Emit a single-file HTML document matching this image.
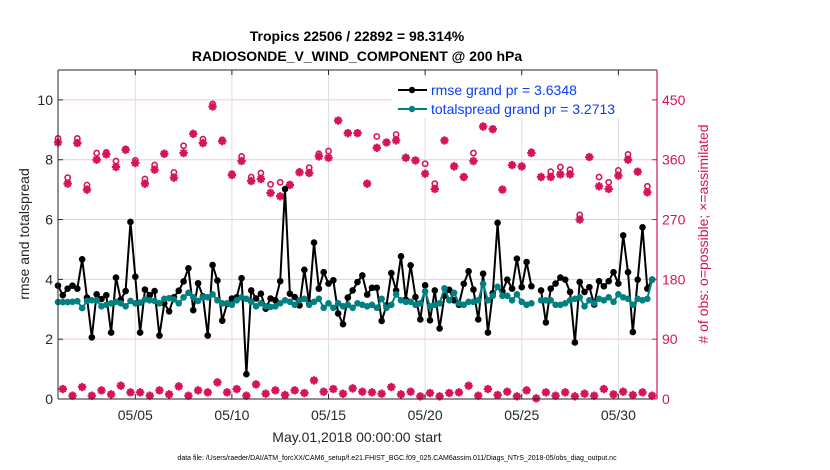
<!DOCTYPE html>
<html><head><meta charset="utf-8"><style>
body{margin:0;background:#fff;}
svg{display:block;font-family:"Liberation Sans",Arial,sans-serif;}
</style></head><body>
<svg id="chart" width="830" height="470" viewBox="0 0 830 470" xmlns="http://www.w3.org/2000/svg">
<rect width="830" height="470" fill="#fff"/>
<g id="grid"></g>
<g id="series"></g>
<g id="axes"></g>
<text x="357" y="41" text-anchor="middle" font-size="14" font-weight="bold" fill="#000">Tropics 22506 / 22892 = 98.314%</text>
<text x="357" y="61" text-anchor="middle" font-size="14" font-weight="bold" fill="#000">RADIOSONDE_V_WIND_COMPONENT @ 200 hPa</text>
<text transform="translate(29,234) rotate(-90)" text-anchor="middle" font-size="14" fill="#262626">rmse and totalspread</text>
<text transform="translate(708,234) rotate(-90)" text-anchor="middle" font-size="14" fill="#d6135a"># of obs: o=possible; ×=assimilated</text>
<text x="357" y="442" text-anchor="middle" font-size="14" fill="#262626">May.01,2018 00:00:00 start</text>
<text x="397" y="460" text-anchor="middle" font-size="7" fill="#000">data file: /Users/raeder/DAI/ATM_forcXX/CAM6_setup/f.e21.FHIST_BGC.f09_025.CAM6assim.011/Diags_NTrS_2018-05/obs_diag_output.nc</text>
<g id="legend">
<rect x="392" y="78" width="260" height="40" fill="#fff"/>
<g>
<line x1="398" y1="90" x2="427" y2="90" stroke="#000" stroke-width="2"/><circle cx="412" cy="90" r="3.2" fill="#000"/>
<text x="431" y="95" font-size="14" fill="#0a3cf5">rmse grand pr = 3.6348</text></g>
<g>
<line x1="398" y1="109" x2="427" y2="109" stroke="#008080" stroke-width="2"/><circle cx="412" cy="109" r="3.2" fill="#008080"/>
<text x="431" y="114" font-size="14" fill="#0a3cf5">totalspread grand pr = 3.2713</text></g>
</g>
</svg>
<script>
const rmse=[3.79,3.47,3.69,3.79,3.69,4.67,3.39,2.06,3.5,3.34,3.47,2.22,4.06,3.32,3.61,5.92,4.09,2.22,3.66,3.47,3.61,2.12,3.2,2.93,3.4,3.62,3.93,4.37,2.97,3.87,3.43,2.12,4.48,3.96,2.62,3.18,3.36,3.4,4.04,0.83,3.63,3.36,3.52,3.02,3.36,3.3,3.94,7.02,3.52,3.41,3.13,4.32,3.2,5.23,3.69,4.24,3.86,3.97,2.86,2.5,3.39,3.63,3.91,4.13,3.49,3.72,3.72,2.61,3.13,4.21,3.63,4.77,3.32,4.47,3.41,2.66,3.8,2.63,3.63,2.36,3.45,3.65,3.3,3.15,3.85,4.27,3.66,2.66,4.19,2.22,3.54,5.89,3.6,3.99,3.69,4.69,3.74,4.58,3.77,null,3.63,2.56,3.69,3.86,4.06,3.99,3.58,1.89,3.91,3.58,3.74,3.16,3.94,3.77,3.94,4.24,3.86,5.47,4.24,2.24,3.99,5.74,3.69,3.99];
const spread=[3.24,3.24,3.24,3.25,3.27,3.04,3.28,3.3,3.3,3.1,3.15,3.2,3.25,3.2,3.1,3.28,3.2,3.22,3.33,3.3,3.28,3.2,3.35,3.37,3.33,3.2,3.4,3.55,3.4,3.28,3.4,3.4,3.5,3.3,3.2,3.2,3.15,3.3,3.4,3.35,3.25,3.1,3.2,3.1,3.08,3.1,3.2,3.3,3.25,3.15,3.3,3.35,3.15,3.25,3.35,3.05,3.2,3.05,3.2,3.1,3.15,3.05,3.2,3.15,3.1,3.15,3.05,3.35,3.05,3.15,3.5,3.3,3.25,3.25,3.15,3.2,3.6,3.1,3.15,3.2,3.7,3.3,3.55,3.2,3.15,3.25,3.25,3.3,3.85,3.3,3.45,3.75,3.45,3.45,3.3,3.5,3.25,3.15,3.2,null,3.3,3.3,3.3,3.15,3.15,3.2,3.3,3.35,3.4,3.1,3.3,3.2,3.35,3.3,3.4,3.25,3.5,3.4,3.35,3.15,3.35,3.3,3.35,4.0];
// obs at 00Z/12Z (even steps) : possible / assimilated
const obsPossHigh=[392,333,392,322,370,371,358,376,359,331,352,369,341,381,399,391,444,390,339,365,334,340,323,326,323,342,348,369,373,419,400,400,324,395,386,398,363,359,354,324,389,350,334,370,410,406,315,352,350,372,334,342,349,345,277,364,334,326,344,368,342,320];
const obsAssimHigh=[386,324,385,315,360,368,349,375,355,324,345,369,333,370,399,385,440,388,337,358,328,331,310,305,322,341,340,365,363,419,400,400,324,378,386,389,363,359,339,316,389,350,334,358,410,406,315,352,350,370,334,334,338,338,270,364,320,316,336,360,342,311];
// obs at 06Z/18Z (odd steps)
const obsLow=[15,5,18,5,13,7,20,10,10,5,13,7,19,5,13,10,25,10,15,5,22,8,13,6,13,9,28,11,15,8,16,11,10,8,18,7,11,4,9,4,9,10,20,5,15,6,11,4,13,1,10,5,10,4,8,5,15,7,11,6,10,5];
const yTicks=[0,2,4,6,8,10];
const y2Ticks=[0,90,180,270,360,450];
const xTickDays=[5,10,15,20,25,30];
const xTickLabels=['05/05','05/10','05/15','05/20','05/25','05/30'];

const X0=58,X1=657,Y0=399,Y1=70;
const dayMin=1,dayMax=32,yMax=11,y2Max=495;
const xs=d=>X0+(d-dayMin)/(dayMax-dayMin)*(X1-X0);
const ys=v=>Y0-v/yMax*(Y0-Y1);
const y2s=v=>Y0-v/y2Max*(Y0-Y1);
const stepDay=i=>dayMin+i*0.25;
const NS='http://www.w3.org/2000/svg';
function mk(tag,attrs,parent){const e=document.createElementNS(NS,tag);for(const k in attrs)e.setAttribute(k,attrs[k]);parent.appendChild(e);return e;}
const grid=document.getElementById('grid'),ser=document.getElementById('series'),axes=document.getElementById('axes');
const MAG='#d6135a';

yTicks.forEach(v=>{const l=mk('line',{x1:X0,x2:X1,y1:ys(v),y2:ys(v),stroke:'#f0c8d8','stroke-width':1},grid);

});
xTickDays.forEach(d=>{const l=mk('line',{x1:xs(d),x2:xs(d),y1:Y1,y2:Y0,stroke:'#dedede','stroke-width':1},grid);

});

function circ(cx,cy,g){const c=mk('circle',{cx:cx,cy:cy,r:2.6,fill:'none',stroke:MAG,'stroke-width':1.6},g);

}
function star(cx,cy,g){const r=4.2,d=r*0.7;const p=mk('path',{d:`M${cx-r},${cy}H${cx+r}M${cx},${cy-r}V${cy+r}M${cx-d},${cy-d}L${cx+d},${cy+d}M${cx-d},${cy+d}L${cx+d},${cy-d}`,stroke:MAG,'stroke-width':2.2,fill:'none'},g);

}
const og=mk('g',{},ser);


obsPossHigh.forEach((v,k)=>{const x=xs(stepDay(2*k));circ(x,y2s(v),og);star(x,y2s(obsAssimHigh[k]),og);});
obsLow.forEach((v,k)=>{const x=xs(stepDay(2*k+1));star(x,y2s(v),og);circ(x,y2s(v),og);});

function lineSeries(vals,color,name){
 const g=mk('g',{},ser);
 
 
 let d='',pen=false;
 vals.forEach((v,i)=>{if(v==null){pen=false;return;}d+=(pen?'L':'M')+xs(stepDay(i)).toFixed(1)+','+ys(v).toFixed(1);pen=true;});
 mk('path',{d:d,stroke:color,'stroke-width':2,fill:'none','stroke-linejoin':'round'},g);
 vals.forEach((v,i)=>{if(v==null)return;const c=mk('circle',{cx:xs(stepDay(i)),cy:ys(v),r:3.3,fill:color},g);
 
 });
}
lineSeries(rmse,'#000','rmse-line');
lineSeries(spread,'#008080','totalspread-line');

mk('line',{x1:X0,x2:X0,y1:Y1,y2:Y0,stroke:'#262626','stroke-width':1},axes);
mk('line',{x1:X0,x2:X1,y1:Y0,y2:Y0,stroke:'#262626','stroke-width':1},axes);
mk('line',{x1:X0,x2:X1,y1:Y1,y2:Y1,stroke:'#262626','stroke-width':1},axes);
mk('line',{x1:X1,x2:X1,y1:Y1,y2:Y0,stroke:MAG,'stroke-width':1.2},axes);
yTicks.forEach(v=>{mk('line',{x1:X0,x2:X0+5,y1:ys(v),y2:ys(v),stroke:'#262626'},axes);
 const t=mk('text',{x:X0-5,y:ys(v)+5,'text-anchor':'end','font-size':14,fill:'#262626'},axes);t.textContent=v;
 
 });
y2Ticks.forEach(v=>{mk('line',{x1:X1-5,x2:X1,y1:y2s(v),y2:y2s(v),stroke:MAG},axes);
 const t=mk('text',{x:X1+5,y:y2s(v)+5,'font-size':14,fill:MAG},axes);t.textContent=v;
 
 });
xTickDays.forEach((d,i)=>{mk('line',{x1:xs(d),x2:xs(d),y1:Y0,y2:Y0-5,stroke:'#262626'},axes);
 mk('line',{x1:xs(d),x2:xs(d),y1:Y1,y2:Y1+5,stroke:'#262626'},axes);
 const t=mk('text',{x:xs(d),y:420,'text-anchor':'middle','font-size':14,fill:'#262626'},axes);t.textContent=xTickLabels[i];
 
 });
</script>
</body></html>
